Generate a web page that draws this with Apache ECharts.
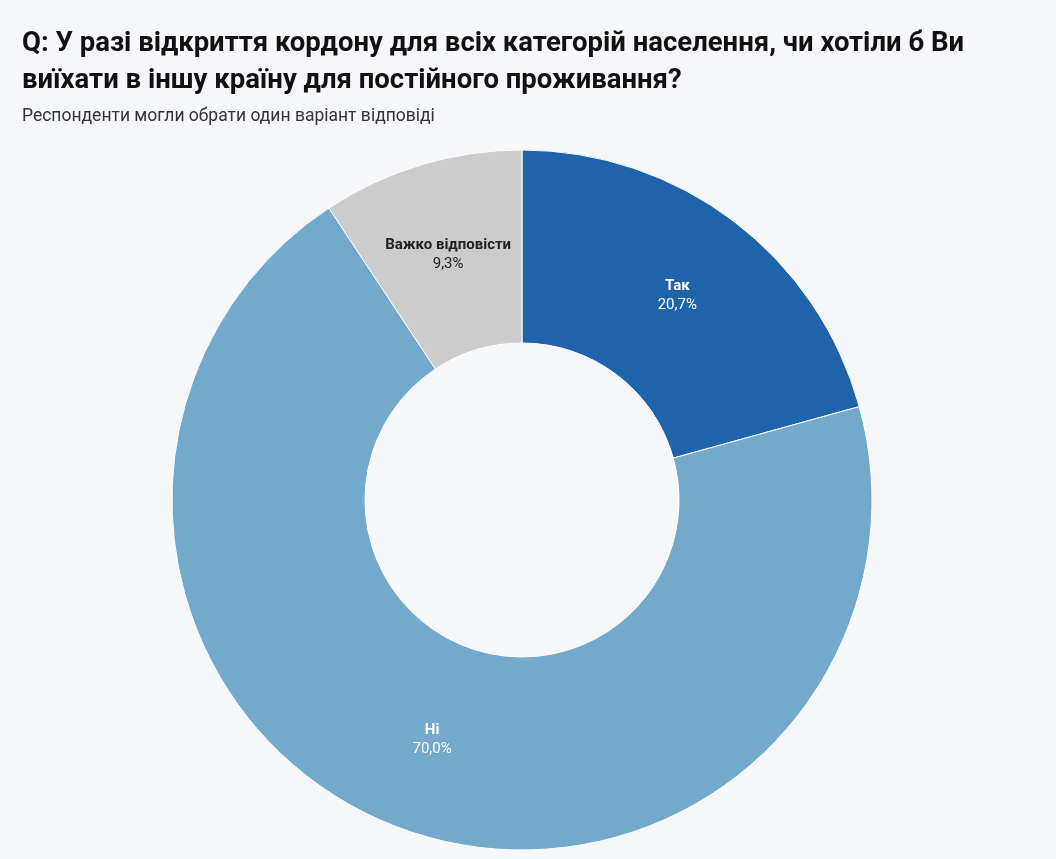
<!DOCTYPE html>
<html>
<head>
<meta charset="utf-8">
<script src="https://cdn.jsdelivr.net/npm/echarts@6/dist/echarts.min.js"></script>
<style>
html,body{margin:0;padding:0;background:#f5f7fa;}
#chart{width:1056px;height:859px;}
</style>
</head>
<body>
<div id="chart"></div>
<script>
const categories = ['Так', 'Ні', 'Важко відповісти'];
const values = [20.7, 70.0, 9.3];
const colors = ['#1f63ab', '#73aacb', '#cccccc'];
const labelColors = ['#ffffff', '#ffffff', '#222222'];
const titleText = 'Q: У разі відкриття кордону для всіх категорій населення, чи хотіли б Ви\nвиїхати в іншу країну для постійного проживання?';
const subtitleText = 'Респонденти могли обрати один варіант відповіді';

const chart = echarts.init(document.getElementById('chart'), null, {renderer: 'canvas'});
const data = categories.map((c, i) => ({
  name: c,
  value: values[i],
  itemStyle: {color: colors[i]},
  label: {
    rich: {
      n: {fontWeight: 'bold', fontSize: 15, color: labelColors[i], fontFamily: 'Roboto', lineHeight: 19},
      v: {fontSize: 15, color: labelColors[i], fontFamily: 'Roboto', lineHeight: 19}
    }
  }
}));
chart.setOption({
  backgroundColor: '#f5f7fa',
  animation: false,
  title: [
    {
      text: titleText,
      left: 17,
      top: 21,
      textStyle: {fontFamily: 'Roboto', fontWeight: 'bold', fontSize: 27.5, color: '#111111', lineHeight: 37}
    },
    {
      text: subtitleText,
      left: 17,
      top: 103,
      textStyle: {fontFamily: 'Roboto', fontWeight: 'normal', fontSize: 17.5, color: '#333333'}
    }
  ],
  series: [{
    type: 'pie',
    center: [522, 500],
    radius: [157, 350],
    startAngle: 90,
    clockwise: true,
    itemStyle: {borderColor: '#ffffff', borderWidth: 1},
    label: {
      show: true,
      position: 'inside',
      formatter: p => '{n|' + p.name + '}\n{v|' + p.value.toFixed(1).replace('.', ',') + '%}'
    },
    labelLine: {show: false},
    emphasis: {disabled: true},
    data: data
  }]
});
</script>
</body>
</html>
